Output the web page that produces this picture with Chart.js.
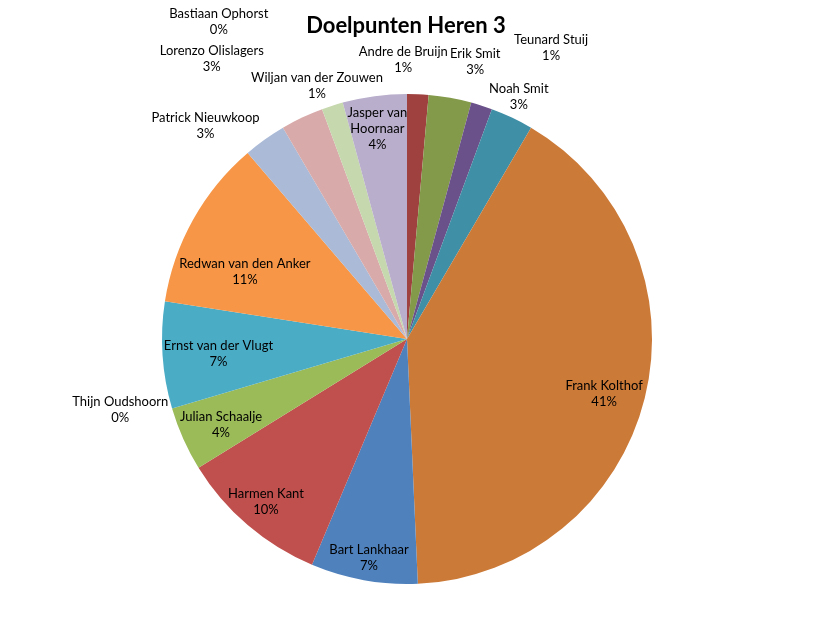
<!DOCTYPE html>
<html>
<head>
<meta charset="utf-8">
<script src="https://cdn.jsdelivr.net/npm/chart.js@4.4.0/dist/chart.umd.min.js"></script>
<style>
  html, body { margin: 0; padding: 0; background: #ffffff; }
  #wrap { width: 814px; height: 635px; position: relative; }
</style>
</head>
<body>
<div id="wrap"><canvas id="c" width="814" height="635"></canvas></div>
<script>
// ---- data ----
const chartTitle = 'Doelpunten Heren 3';
const categories = [
  'Andre de Bruijn', 'Erik Smit', 'Teunard Stuij', 'Noah Smit', 'Frank Kolthof',
  'Bart Lankhaar', 'Harmen Kant', 'Thijn Oudshoorn', 'Julian Schaalje',
  'Ernst van der Vlugt', 'Redwan van den Anker', 'Patrick Nieuwkoop',
  'Lorenzo Olislagers', 'Bastiaan Ophorst', 'Wiljan van der Zouwen', ['Jasper van', 'Hoornaar']
];
const goals = [1, 2, 1, 2, 29, 5, 7, 0, 3, 5, 8, 2, 2, 0, 1, 3];

// ---- styling ----
const sliceColors = [
  '#9F413F', '#839A4B', '#6B5189', '#3F8FA6', '#CC7A38',
  '#4F81BD', '#C0504D', '#8064A2', '#9BBB59', '#4BACC6',
  '#F79646', '#AABAD7', '#D8AAA9', '#B9AECB', '#C6D8AE', '#B9AECB'
];
// label placement relative to each slice: [angle shift in degrees, fraction of radius]
const labelLayout = [
  [-3.3, 1.139], [3.7, 1.165], [8.6, 1.325], [-0.55, 1.088], [1.6, 0.835],
  [-0.3, 0.907], [0.4, 0.878], [17.9, 1.205], [-0.7, 0.836], [-0.7, 0.772],
  [-6.7, 0.716], [-7.9, 1.197], [-9.55, 1.393], [-10.4, 1.505], [-1.85, 1.096], [-0.4, 0.868]
];
const FONT = 'Lato, "Open Sans", sans-serif';

const labelPlugin = {
  id: 'sliceLabels',
  afterDatasetsDraw(chart) {
    const ctx = chart.ctx;
    const meta = chart.getDatasetMeta(0);
    const data = chart.data.datasets[0].data;
    const total = data.reduce((a, b) => a + b, 0);
    ctx.save();
    ctx.fillStyle = '#000000';
    ctx.textAlign = 'center';
    ctx.textBaseline = 'middle';
    ctx.font = '13px ' + FONT;
    meta.data.forEach((arc, i) => {
      const p = arc.getProps(['x', 'y', 'startAngle', 'endAngle', 'outerRadius'], true);
      const mid = (p.startAngle + p.endAngle) / 2 + labelLayout[i][0] * Math.PI / 180;
      const r = p.outerRadius * labelLayout[i][1];
      const cx = p.x + Math.cos(mid) * r;
      const cy = p.y + Math.sin(mid) * r;
      const name = chart.data.labels[i];
      const lines = (Array.isArray(name) ? name.slice() : [name]);
      lines.push(Math.round(data[i] / total * 100) + '%');
      const lh = 16;
      lines.forEach((t, k) => {
        ctx.fillText(t, cx, cy + (k - (lines.length - 1) / 2) * lh);
      });
    });
    // title
    ctx.font = 'bold 22px ' + FONT;
    ctx.textBaseline = 'alphabetic';
    ctx.fillText(chartTitle, chart.width / 2 - 1, 33);
    ctx.restore();
  }
};

new Chart(document.getElementById('c'), {
  type: 'pie',
  data: {
    labels: categories,
    datasets: [{
      data: goals,
      backgroundColor: sliceColors,
      borderWidth: 0,
      hoverOffset: 0,
      offset: 0
    }]
  },
  options: {
    responsive: false,
    animation: false,
    devicePixelRatio: 1,
    events: [],
    layout: { padding: { left: 162, right: 162, top: 94, bottom: 51 } },
    plugins: {
      legend: { display: false },
      tooltip: { enabled: false },
      title: { display: false }
    }
  },
  plugins: [labelPlugin]
});
</script>
</body>
</html>
